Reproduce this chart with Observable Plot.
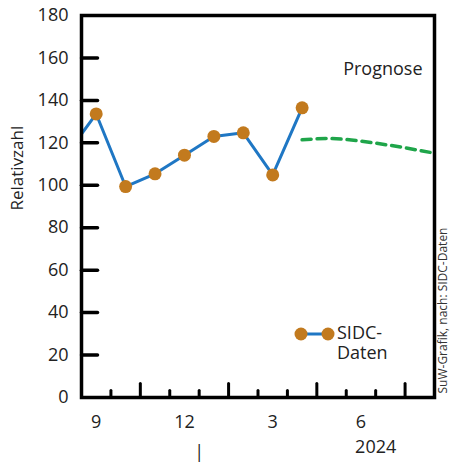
<!DOCTYPE html>
<html><head><meta charset="utf-8">
<script src="https://cdn.jsdelivr.net/npm/d3@7"></script>
<script src="https://cdn.jsdelivr.net/npm/@observablehq/plot@0.6"></script>
<style>
html,body{margin:0;padding:0;background:#fff;overflow:hidden;}
#chart svg{font-family:"Open Sans",sans-serif;}
</style>
</head><body><div id="chart"></div>
<script>
// ---- data ----
const months = ["2023-08","2023-09","2023-10","2023-11","2023-12","2024-01","2024-02","2024-03","2024-04"];
const sidc = [114.8,133.6,99.4,105.4,114.2,123.0,124.7,104.9,136.5];
const forecastMonths = ["2024-04","2024-05","2024-06","2024-07","2024-08","2024-09"];
const forecast = [121.4,122.0,120.8,118.8,116.4,113.8];
const xTickMonths = ["2023-09","2023-12","2024-03","2024-06"];
const xTickLabels = ["9","12","3","6"];
const yTicks = [20,40,60,80,100,120,140,160];
const yTickLabels = [0,20,40,60,80,100,120,140,160,180];
const firstMonth = "2023-09", lastMonth = "2024-08";
const yearLabel = "2024";
const yAxisLabel = "Relativzahl";
const forecastLabel = "Prognose";
const legendLabel = ["SIDC-","Daten"];
const sourceLabel = "SuW-Grafik, nach: SIDC-Daten";

const blue = "#1f77c4", orange = "#c27a1e", green = "#1fa54a";
const FS = 18;

const idx = m => { const [y, mo] = m.split("-").map(Number); return (y - 2023) * 12 + mo - 9; };
const sidcData = months.map((m, i) => ({x: idx(m), y: sidc[i]}));
const fcData = forecastMonths.map((m, i) => ({x: idx(m), y: forecast[i]}));
const x0 = idx(firstMonth), x1 = idx(lastMonth);
const boundaries = d3.range(x0, x1).map(i => i + 0.5);
const major = boundaries.filter((b, i) => i % 3 === 1);
const minor = boundaries.filter((b, i) => i % 3 !== 1);
const yearBoundary = idx("2024-01") - 0.5;
const tickData = xTickMonths.map((m, i) => ({x: idx(m), label: xTickLabels[i]}));

const tickShape = {draw(context, l) { context.moveTo(0, 0); context.lineTo(0, -l); }};

const chart = Plot.plot({
  width: 451, height: 465,
  marginLeft: 81, marginRight: 17, marginTop: 15, marginBottom: 68,
  style: {fontSize: FS + "px", fontFamily: "Open Sans", color: "#222"},
  x: {domain: [x0 - 0.5, x1 + 0.5], axis: null},
  y: {domain: [0, 180], axis: null},
  marks: [
    Plot.line(fcData, {x: "x", y: "y", stroke: green, strokeWidth: 3.5, strokeDasharray: "9,6", curve: "natural", clip: true}),
    Plot.line(sidcData, {x: "x", y: "y", stroke: blue, strokeWidth: 3, clip: true}),
    Plot.dot(sidcData, {x: "x", y: "y", r: 6.5, fill: orange, clip: true}),
    Plot.vector(yTicks, {y: d => d, frameAnchor: "left", rotate: 90, length: 16, anchor: "start", shape: tickShape, stroke: "black", strokeWidth: 3.5}),
    Plot.vector(minor, {x: d => d, frameAnchor: "bottom", rotate: 0, length: 7, anchor: "start", shape: tickShape, stroke: "black", strokeWidth: 3}),
    Plot.vector(major, {x: d => d, frameAnchor: "bottom", rotate: 0, length: 14, anchor: "start", shape: tickShape, stroke: "black", strokeWidth: 3}),
    Plot.axisY(yTickLabels, {anchor: "left", tickSize: 0, tickPadding: 13, fontSize: FS, fill: "#222", label: null}),
    Plot.frame({stroke: "black", strokeWidth: 3.5}),
    Plot.text(tickData, {x: "x", text: "label", frameAnchor: "bottom", dy: 25, lineAnchor: "middle", fontSize: FS, fill: "#222"}),
    Plot.text([yearLabel], {x: idx("2024-06") + 0.5, text: d => d, frameAnchor: "bottom", dy: 50, lineAnchor: "middle", fontSize: FS, fill: "#222"}),
    Plot.text(["|"], {x: yearBoundary, text: d => d, frameAnchor: "bottom", dy: 55, lineAnchor: "middle", fontSize: FS, fill: "#222"}),
    Plot.text([forecastLabel], {text: d => d, frameAnchor: "top-right", dx: -12, dy: 54, lineAnchor: "middle", textAnchor: "end", fontSize: FS, fill: "#222"}),
    Plot.text([yAxisLabel], {text: d => d, frameAnchor: "left", dx: -64, dy: 4, rotate: -90, lineAnchor: "middle", fontSize: FS - 1, fill: "#222"}),
    Plot.text([sourceLabel], {text: d => d, frameAnchor: "bottom-right", dx: 9, dy: -4, rotate: -90, textAnchor: "start", lineAnchor: "middle", fontSize: 12, fill: "#333"})
  ]
});
document.getElementById("chart").appendChild(chart);

// legend
const svg = d3.select(chart);
const lg = svg.append("g");
lg.append("line").attr("x1", 301).attr("x2", 328).attr("y1", 334).attr("y2", 334).attr("stroke", blue).attr("stroke-width", 3);
lg.selectAll("circle").data([301, 328]).join("circle").attr("cx", d => d).attr("cy", 334).attr("r", 6.5).attr("fill", orange);
lg.selectAll("text").data(legendLabel).join("text")
  .attr("x", 337).attr("y", (d, i) => 333 + i * 20).attr("dy", "0.35em").attr("text-anchor", "start")
  .attr("font-size", FS).attr("font-family", "Open Sans").attr("fill", "#222").text(d => d);
</script>
</body></html>
